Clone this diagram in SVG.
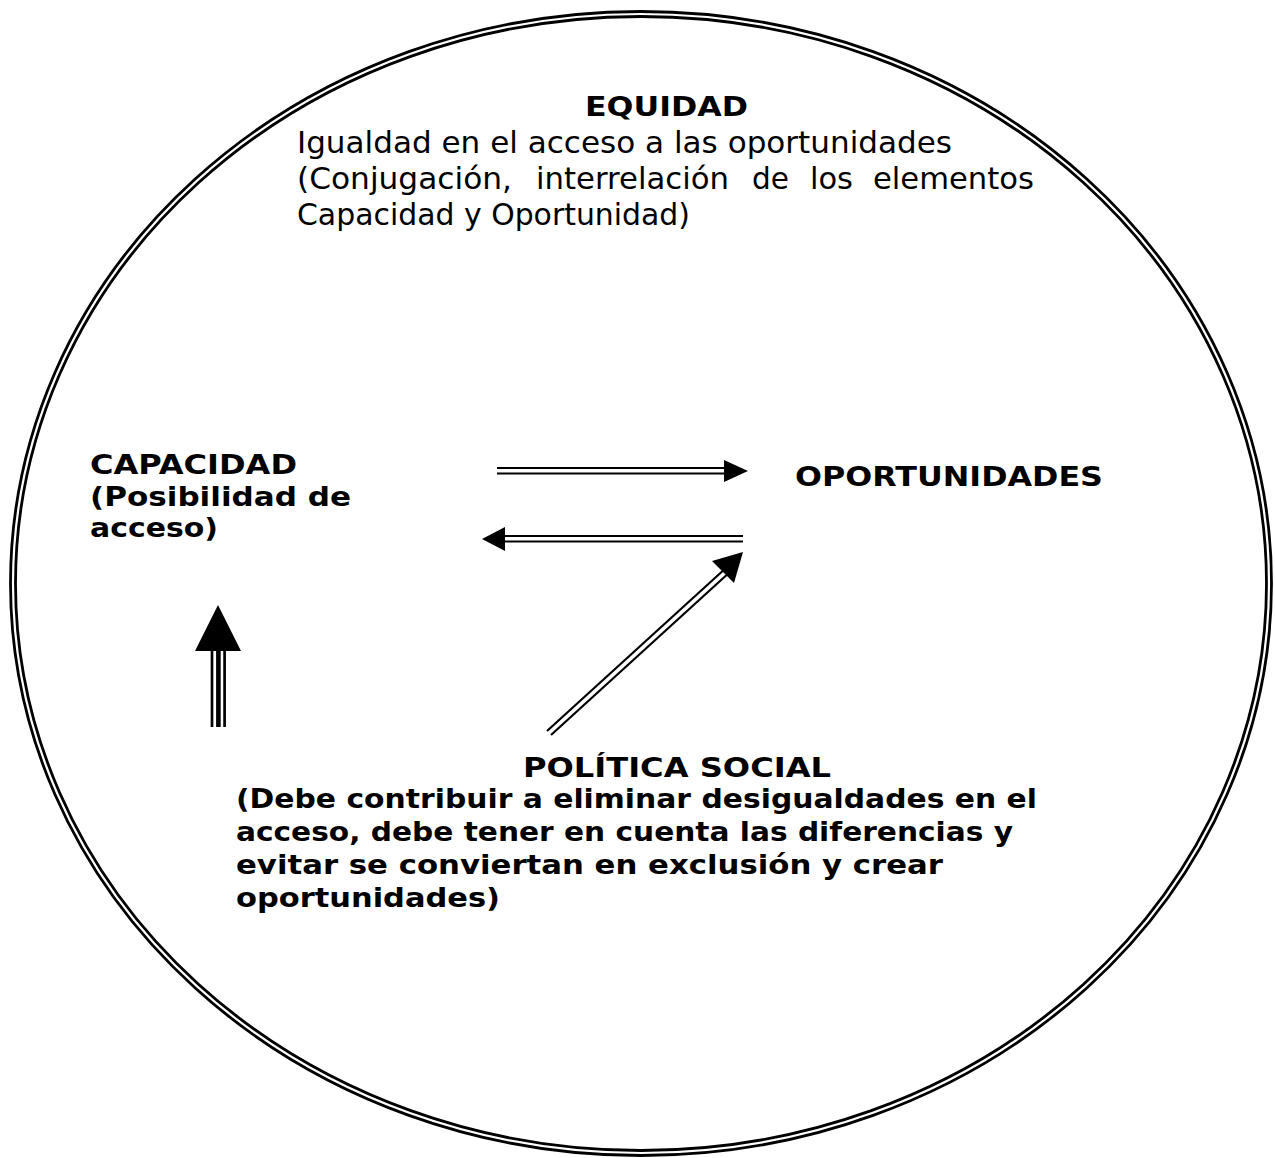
<svg xmlns="http://www.w3.org/2000/svg" width="1275" height="1158" viewBox="0 0 1275 1158">
<style>
.t{font-family:"DejaVu Sans","Liberation Sans",sans-serif;font-size:30px;fill:#000}
.b{font-weight:bold;font-size:27px}
.ln{stroke:#000;stroke-width:2.2;fill:none}
.ring{stroke:#000;stroke-width:2.8;fill:none}
</style>
<rect width="1275" height="1158" fill="#fff"/>
<g id="equidad">
<ellipse class="ring" cx="641" cy="583.5" rx="630.5" ry="572"/>
<ellipse class="ring" cx="641" cy="583.5" rx="625.5" ry="567"/>
<text class="t b" x="585" y="116" textLength="163" lengthAdjust="spacingAndGlyphs">EQUIDAD</text>
<text class="t" x="297" y="153" textLength="655" lengthAdjust="spacingAndGlyphs">Igualdad en el acceso a las oportunidades</text>
<text class="t" x="297" y="189" textLength="215" lengthAdjust="spacingAndGlyphs">(Conjugación,</text>
<text class="t" x="536" y="189" textLength="193" lengthAdjust="spacingAndGlyphs">interrelación</text>
<text class="t" x="752" y="189" textLength="37" lengthAdjust="spacingAndGlyphs">de</text>
<text class="t" x="810" y="189" textLength="43" lengthAdjust="spacingAndGlyphs">los</text>
<text class="t" x="873" y="189" textLength="161" lengthAdjust="spacingAndGlyphs">elementos</text>
<text class="t" x="297" y="225" textLength="393" lengthAdjust="spacingAndGlyphs">Capacidad y Oportunidad)</text>
</g>
<g id="capacidad">
<text class="t b" x="90" y="474" textLength="207" lengthAdjust="spacingAndGlyphs">CAPACIDAD</text>
<text class="t b" x="90" y="506" textLength="261" lengthAdjust="spacingAndGlyphs">(Posibilidad de</text>
<text class="t b" x="90" y="537" textLength="128" lengthAdjust="spacingAndGlyphs">acceso)</text>
</g>
<g id="oportunidades">
<text class="t b" x="795" y="486" textLength="308" lengthAdjust="spacingAndGlyphs">OPORTUNIDADES</text>
</g>
<g id="politica-social">
<text class="t b" x="523" y="777" textLength="308" lengthAdjust="spacingAndGlyphs">POLÍTICA SOCIAL</text>
<text class="t b" x="236" y="808" textLength="801" lengthAdjust="spacingAndGlyphs">(Debe contribuir a eliminar desigualdades en el</text>
<text class="t b" x="236" y="841" textLength="777" lengthAdjust="spacingAndGlyphs">acceso, debe tener en cuenta las diferencias y</text>
<text class="t b" x="236" y="874" textLength="707" lengthAdjust="spacingAndGlyphs">evitar se conviertan en exclusión y crear</text>
<text class="t b" x="236" y="907" textLength="264" lengthAdjust="spacingAndGlyphs">oportunidades)</text>
</g>
<g id="connectors">
<line class="ln" x1="497" y1="468" x2="727" y2="468"/>
<line class="ln" x1="497" y1="473.5" x2="727" y2="473.5"/>
<polygon points="724,460 748,471 724,482" fill="#000"/>
<line class="ln" x1="503" y1="536" x2="743" y2="536"/>
<line class="ln" x1="503" y1="541.5" x2="743" y2="541.5"/>
<polygon points="505,527 482,539 505,551" fill="#000"/>
<line class="ln" x1="547" y1="731" x2="727" y2="567"/>
<line class="ln" x1="551" y1="735" x2="731" y2="571"/>
<polygon points="743,552 734,583 712,561" fill="#000"/>
<line stroke="#000" stroke-width="2.7" x1="212" y1="650" x2="212" y2="727"/>
<line stroke="#000" stroke-width="4.6" x1="218.4" y1="650" x2="218.4" y2="727"/>
<line stroke="#000" stroke-width="2.7" x1="224.6" y1="650" x2="224.6" y2="727"/>
<polygon points="218,605 241,651 195,651" fill="#000"/>
</g>
</svg>
